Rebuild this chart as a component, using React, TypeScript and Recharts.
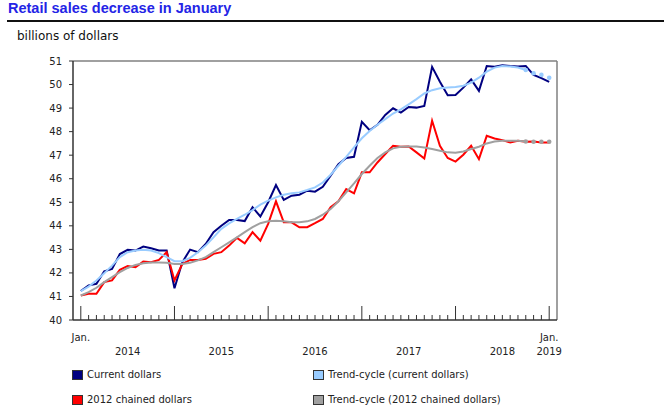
import { LineChart, Line, XAxis, YAxis, ReferenceLine } from "recharts";

// monthly, Jan 2014 .. Jan 2019 (61 months), billions of dollars
const currentDollars = [
  41.23, 41.47, 41.54, 42.07, 42.17, 42.8, 42.98, 42.95, 43.12, 43.05, 42.95, 42.95,
  41.35, 42.45, 42.99, 42.88, 43.23, 43.73, 44.0, 44.25, 44.25, 44.2, 44.79, 44.4,
  45.0, 45.73, 45.1, 45.28, 45.32, 45.49, 45.45, 45.66, 46.13, 46.62, 46.88, 46.93,
  48.42, 48.06, 48.29, 48.71, 48.99, 48.81, 49.05, 49.02, 49.09, 50.75, 50.12, 49.55,
  49.56, 49.87, 50.22, 49.73, 50.79, 50.76, 50.82, 50.79, 50.77, 50.79, 50.41, 50.27, 50.11,
];

const trendCurrent = [
  41.23, 41.42, 41.68, 41.99, 42.31, 42.67, 42.88, 42.95, 42.98, 42.95, 42.84, 42.67,
  42.5, 42.5, 42.64, 42.88, 43.16, 43.51, 43.87, 44.1, 44.29, 44.47, 44.67, 44.9,
  45.07, 45.21, 45.32, 45.38, 45.42, 45.52, 45.63, 45.84, 46.17, 46.55, 46.93, 47.33,
  47.72, 48.03, 48.29, 48.53, 48.77, 48.95, 49.16, 49.38, 49.62, 49.76, 49.84, 49.87,
  49.9, 49.95, 50.08, 50.29, 50.55, 50.72, 50.79, 50.77, 50.72, 50.62, 50.48, 50.41, 50.29,
];

const chainedDollars = [
  41.04, 41.11, 41.11, 41.61, 41.68, 42.13, 42.29, 42.24, 42.48, 42.45, 42.55, 42.88,
  41.68, 42.38, 42.55, 42.55, 42.6, 42.81, 42.88, 43.16, 43.49, 43.26, 43.73, 43.37,
  44.08, 45.04, 44.15, 44.15, 43.94, 43.94, 44.11, 44.29, 44.79, 45.04, 45.56, 45.38,
  46.27, 46.27, 46.69, 47.05, 47.4, 47.36, 47.37, 47.12, 46.86, 48.46, 47.4, 46.88,
  46.73, 47.02, 47.4, 46.83, 47.82, 47.71, 47.64, 47.54, 47.61, 47.57, 47.58, 47.54, 47.54,
];

const trendChained = [
  41.04, 41.18, 41.37, 41.61, 41.82, 42.03, 42.21, 42.34, 42.41, 42.44, 42.44, 42.43,
  42.38, 42.38, 42.43, 42.53, 42.67, 42.88, 43.09, 43.3, 43.51, 43.73, 43.94, 44.11,
  44.19, 44.22, 44.19, 44.15, 44.15, 44.19, 44.29, 44.47, 44.71, 45.04, 45.42, 45.8,
  46.2, 46.55, 46.88, 47.12, 47.29, 47.36, 47.37, 47.37, 47.33, 47.26, 47.19, 47.12,
  47.1, 47.16, 47.26, 47.36, 47.5, 47.58, 47.61, 47.61, 47.61, 47.58, 47.57, 47.57, 47.57,
];

// last trend points are shown dotted
const firstDotted = 57;

const years = ["2014", "2015", "2016", "2017", "2018", "2019"];
const yTicks = [40, 41, 42, 43, 44, 45, 46, 47, 48, 49, 50, 51];

const font = "'DejaVu Sans', Verdana, sans-serif";

const data = currentDollars.map((v, i) => ({
  idx: i,
  current: v,
  chained: chainedDollars[i],
  trendCur: i <= firstDotted ? trendCurrent[i] : null,
  trendCurDots: i >= firstDotted ? trendCurrent[i] : null,
  trendCh: i <= firstDotted ? trendChained[i] : null,
  trendChDots: i >= firstDotted ? trendChained[i] : null,
}));

const monthTicks = data.map((d) => d.idx);

function MonthTick({ x, y, payload }: any) {
  const i = payload.value as number;
  const major = i % 12 === 0;
  const last = i === monthTicks.length - 1;
  let year: string | null = null;
  if (i % 12 === 6) year = years[(i - 6) / 12];
  if (last) year = years[years.length - 1];
  return (
    <g>
      <line x1={x} x2={x} y1={y} y2={y - (major ? 14 : 5)} stroke="#333" strokeWidth={1} />
      {(i === 0 || last) && (
        <text x={x} y={y + 21} textAnchor="middle" fontSize={10} fontFamily={font} fill="#222">
          Jan.
        </text>
      )}
      {year && (
        <text x={x} y={y + 35} textAnchor="middle" fontSize={10} fontFamily={font} fill="#222">
          {year}
        </text>
      )}
    </g>
  );
}

const legendItems = [
  { label: "Current dollars", color: "#000080", left: 72, top: 370 },
  { label: "Trend-cycle (current dollars)", color: "#99ccff", left: 313, top: 370 },
  { label: "2012 chained dollars", color: "#ff0000", left: 72, top: 395 },
  { label: "Trend-cycle (2012 chained dollars)", color: "#a0a0a0", left: 313, top: 395 },
];

export default function App() {
  return (
    <div style={{ position: "absolute", left: 0, top: 0, width: 664, height: 414, background: "#fff" }}>
      <div
        style={{
          position: "absolute",
          left: 8,
          top: 0,
          fontFamily: "'Liberation Sans', Arial, sans-serif",
          fontWeight: "bold",
          fontSize: 14.5,
          lineHeight: "17px",
          color: "#2424e6",
          whiteSpace: "nowrap",
        }}
      >
        Retail sales decrease in January
      </div>
      <div style={{ position: "absolute", left: 7, right: 0, top: 20, height: 1.5, background: "#111" }} />
      <div
        style={{
          position: "absolute",
          left: 17,
          top: 29,
          fontFamily: font,
          fontSize: 12,
          lineHeight: "14px",
          color: "#111",
          whiteSpace: "nowrap",
        }}
      >
        billions of dollars
      </div>

      <div style={{ position: "absolute", left: 0, top: 0 }}>
        <LineChart width={664} height={414} data={data} margin={{ top: 61, right: 107, bottom: 0, left: 0 }}>
          <XAxis
            dataKey="idx"
            type="number"
            domain={[-1, 61]}
            ticks={monthTicks}
            interval={0}
            height={94}
            tickSize={0}
            tickMargin={0}
            tickLine={false}
            axisLine={{ stroke: "#333", strokeWidth: 1.5 }}
            tick={<MonthTick />}
          />
          <YAxis
            type="number"
            domain={[40, 51]}
            ticks={yTicks}
            interval={0}
            width={73}
            tickSize={4}
            tickMargin={7}
            tickLine={{ stroke: "#333" }}
            axisLine={{ stroke: "#333", strokeWidth: 1.5 }}
            tick={{ fontSize: 10, fontFamily: font, fill: "#222" }}
          />
          <ReferenceLine y={51} stroke="#808080" strokeWidth={1.5} />
          <ReferenceLine x={61} stroke="#808080" strokeWidth={1.5} />

          <Line dataKey="current" stroke="#000080" strokeWidth={2} dot={false} isAnimationActive={false} />
          <Line dataKey="chained" stroke="#ff0000" strokeWidth={2} dot={false} isAnimationActive={false} />
          <Line dataKey="trendCur" stroke="#99ccff" strokeWidth={2} dot={false} isAnimationActive={false} />
          <Line
            dataKey="trendCurDots"
            stroke="none"
            dot={{ r: 2.3, fill: "#99ccff", stroke: "none" }}
            isAnimationActive={false}
          />
          <Line dataKey="trendCh" stroke="#a0a0a0" strokeWidth={2} dot={false} isAnimationActive={false} />
          <Line
            dataKey="trendChDots"
            stroke="none"
            dot={{ r: 2.3, fill: "#a0a0a0", stroke: "none" }}
            isAnimationActive={false}
          />
        </LineChart>
      </div>

      {legendItems.map((it) => (
        <div key={it.label}>
          <div
            style={{
              position: "absolute",
              left: it.left,
              top: it.top,
              width: 11,
              height: 10,
              boxSizing: "border-box",
              border: "1px solid #333",
              background: it.color,
            }}
          />
          <div
            style={{
              position: "absolute",
              left: it.left + 15,
              top: it.top - 1,
              fontFamily: font,
              fontSize: 10,
              lineHeight: "12px",
              color: "#222",
              whiteSpace: "nowrap",
            }}
          >
            {it.label}
          </div>
        </div>
      ))}
    </div>
  );
}
